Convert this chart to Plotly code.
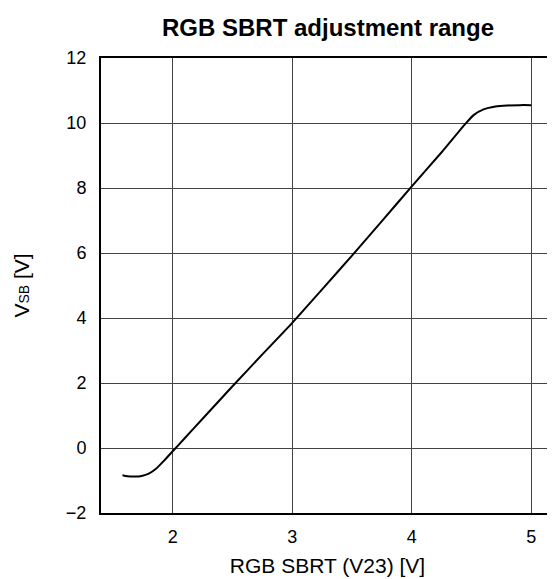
import plotly.graph_objects as go

# curve
v23 = [1.58, 1.62, 1.68, 1.74, 1.80, 1.86, 1.93, 2.00, 2.10, 2.25, 2.50, 2.75,
       3.00, 3.25, 3.50, 3.75, 4.00, 4.25, 4.45, 4.52, 4.60, 4.70, 4.80, 4.90, 5.00]
vsb = [-0.84, -0.87, -0.88, -0.86, -0.79, -0.64, -0.38, -0.10, 0.30, 0.90, 1.90, 2.88,
       3.85, 4.88, 5.92, 6.98, 8.05, 9.10, 9.98, 10.25, 10.42, 10.51, 10.54, 10.55, 10.55]

x_ticks = [2, 3, 4, 5]
y_ticks = [-2, 0, 2, 4, 6, 8, 10, 12]

fig = go.Figure()
fig.add_trace(go.Scatter(
    x=v23, y=vsb, mode='lines',
    line=dict(color='black', width=2, shape='spline', smoothing=0.6),
    showlegend=False
))

# page body has an 8px default margin, so the figure is a bit smaller than the window
font = 'Liberation Sans, Arial, sans-serif'
fig.update_layout(
    width=547, height=571,
    margin=dict(l=93, r=1, t=50, b=66),
    plot_bgcolor='white', paper_bgcolor='white',
    font=dict(family=font, size=18, color='black'),
    title=dict(text='<b>RGB SBRT adjustment range</b>', x=0.585, xanchor='center',
               xref='container', yref='container',
               y=0.965, yanchor='middle', font=dict(size=24, family=font)),
    xaxis=dict(
        range=[1.4, 5.19], tickvals=x_ticks, ticks='', showgrid=True,
        gridcolor='#444', gridwidth=1, zeroline=False, automargin=False,
        showline=True, linecolor='black', linewidth=2, mirror=True,
        ticklabelstandoff=6,
        title=dict(text='RGB SBRT (V23) [V]', standoff=13, font=dict(size=21)),
    ),
    yaxis=dict(
        range=[-2, 12], tickvals=y_ticks, ticks='', showgrid=True,
        gridcolor='#444', gridwidth=1, zeroline=False, automargin=False,
        showline=True, linecolor='black', linewidth=2, mirror=True,
        ticklabelstandoff=9,
        title=dict(text="V<span style='font-size:14px'>SB</span> [V]", standoff=31,
                   font=dict(size=21)),
    ),
)

fig.write_html("out.html")
